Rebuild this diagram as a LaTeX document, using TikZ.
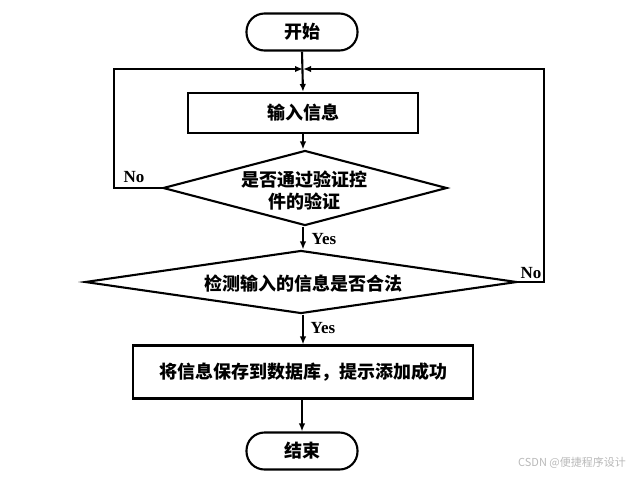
\documentclass[tikz,border=0pt]{standalone}
\usepackage{fontspec}
\setmainfont{Liberation Serif}
\newfontfamily\cjk{Noto Sans CJK SC}
\usetikzlibrary{shapes.geometric,arrows.meta}
\definecolor{wmgray}{RGB}{185,185,185}
\tikzset{
  flow/.style={line width=2.1pt, draw=black},
  arr/.style={flow, -{Latex[length=8pt,width=6.5pt]}},
  term/.style={flow, rectangle, rounded corners=18pt, minimum width=111pt, minimum height=37pt, inner sep=0pt, font=\cjk\bfseries\fontsize{18}{22}\selectfont},
  procbox/.style={flow, rectangle, inner sep=0pt, font=\cjk\bfseries\fontsize{18}{22}\selectfont},
  decide/.style={flow, diamond, inner sep=0pt, font=\cjk\bfseries\fontsize{18}{22}\selectfont, align=center},
  lab/.style={font=\bfseries\fontsize{17}{19}\selectfont, inner sep=0pt},
}
\begin{document}
\begin{tikzpicture}[x=1pt,y=-1pt]
\useasboundingbox (0,0) rectangle (637,480);
\node[term] (start) at (302,32) {开始};
\node[procbox, minimum width=230pt, minimum height=40pt] (input) at (303,113) {输入信息};
\node[decide, minimum width=284pt, minimum height=75pt] (d1) at (305,188) {};
\node[font=\cjk\bfseries\fontsize{18}{22}\selectfont, align=center, inner sep=0pt] (d1t) at (304,191) {是否通过验证控\\件的验证};
\node[decide, minimum width=432pt, minimum height=63pt] (d2) at (301,282) {};
\node[font=\cjk\bfseries\fontsize{18}{22}\selectfont, inner sep=0pt] (d2t) at (303,284) {检测输入的信息是否合法};
\node[procbox, minimum width=340pt, minimum height=53pt] (save) at (303,372) {将信息保存到数据库，提示添加成功};
\node[term] (end) at (302,451) {结束};
\coordinate (J) at (303,69);
\coordinate (L1) at (114,188);
\coordinate (L2) at (114,69);
\coordinate (R1) at (544,282);
\coordinate (R2) at (544,69);
\draw[arr] (start.south) -- (input.north);
\draw[arr] (input.south) -- (d1.north -| input.south);
\draw[arr] (d1.south -| input.south) -- (d2.north -| input.south);
\draw[arr] (d2.south -| input.south) -- (save.north);
\draw[arr] (save.south -| end.north) -- (end.north);
\draw[arr] (d1.west) -- (L1) -- (L2) -- (J);
\draw[arr] (d2.east) -- (R1) -- (R2) -- (J);
\node[lab] (no1) at (134,177) {No};
\node[lab] (no2) at (531,273) {No};
\node[lab] (yes1) at (324,239) {Yes};
\node[lab] (yes2) at (323,328) {Yes};
\node[font=\cjk\fontsize{11}{13}\selectfont, text=wmgray, inner sep=0pt] (wm) at (572,463) {CSDN @便捷程序设计};
\end{tikzpicture}
\end{document}
